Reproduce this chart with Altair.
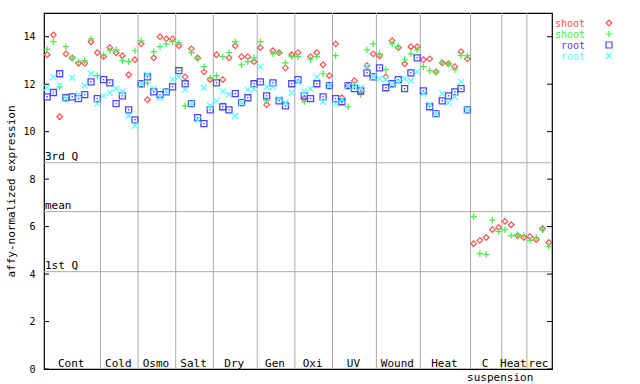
import altair as alt
import pandas as pd

groups = ["Cont", "Cold", "Osmo", "Salt", "Dry", "Gen", "Oxi", "UV", "Wound", "Heat", "C", "Heat", "rec"]
group_sub = ["", "", "", "", "", "", "", "", "", "", "suspension", "", ""]
counts = [9, 6, 6, 6, 7, 6, 6, 7, 7, 8, 5, 4, 4]

shoot1 = [13.24, 14.08, 10.63, 13.28, 13.11, 12.88, 12.88, 13.79, 13.33,
          13.16, 13.54, 13.33, 13.20, 12.40, 13.03,
          13.70, 11.35, 13.11, 14.00, 13.91, 13.91,
          13.62, 12.31, 13.49, 13.11, 12.52, 12.19,
          13.24, 12.19, 13.11, 13.62, 13.16, 13.16, 12.95,
          13.54, 11.14, 13.41, 13.33, 12.69, 13.24,
          13.33, 11.39, 13.16, 13.33, 12.82, 12.36,
          13.70, 11.43, 11.94, 12.15, 11.72, 12.78, 13.28,
          13.20, 12.31, 13.83, 13.54, 12.86, 13.58, 13.58,
          13.03, 13.07, 12.52, 12.90, 12.86, 12.74, 13.37, 13.07,
          5.28, 5.42, 5.54, 5.87, 5.96,
          6.22, 6.08, 5.62, 5.54,
          5.58, 5.45, 5.91, 5.33]

shoot2 = [13.47, 13.79, 11.89, 13.58, 13.07, 12.95, 12.99, 13.91, 12.36,
          13.24, 13.41, 13.45, 12.99, 12.95, 13.41,
          13.83, 12.06, 13.37, 13.58, 13.70, 13.79,
          13.75, 11.09, 13.33, 13.07, 12.74, 12.27,
          12.36, 13.16, 13.33, 13.79, 12.82, 12.95, 13.11,
          13.79, 11.30, 13.28, 13.33, 12.90, 13.16,
          13.16, 11.26, 13.03, 13.16, 12.44, 11.94,
          13.20, 11.30, 11.05, 11.98, 11.56, 13.45, 13.70,
          13.28, 12.61, 13.70, 13.58, 13.03, 13.28, 13.45,
          12.74, 12.57, 12.48, 12.90, 12.86, 12.61, 13.20, 13.20,
          6.42, 4.86, 4.82, 6.27, 5.79,
          5.87, 5.62, 5.66, 5.62,
          5.42, 5.54, 5.87, 5.16]

root1 = [11.47, 11.65, 12.44, 11.43, 11.47, 11.39, 11.56, 12.10, 11.39,
         12.19, 12.06, 11.18, 11.51, 10.92, 10.50,
         12.02, 12.31, 11.68, 11.56, 11.68, 11.89,
         12.57, 12.02, 11.18, 10.59, 10.34, 10.92,
         12.06, 11.05, 10.92, 11.60, 11.22, 11.43, 12.02,
         12.10, 11.51, 12.06, 11.30, 11.09, 12.02,
         12.19, 11.51, 11.39, 12.02, 11.47, 11.94,
         11.39, 11.26, 11.94, 11.81, 11.72, 12.48, 12.31,
         12.69, 11.85, 12.02, 12.19, 11.81, 12.48, 13.11,
         11.72, 11.05, 10.76, 11.30, 11.51, 11.68, 11.81, 10.92]

root2 = [11.85, 12.31, 11.94, 11.39, 12.27, 11.56, 11.94, 12.44, 11.18,
         11.51, 11.64, 11.81, 11.68, 10.67, 10.25,
         12.02, 12.40, 11.81, 11.43, 11.70, 12.19,
         12.31, 11.77, 11.18, 10.50, 11.85, 11.09,
         11.30, 11.70, 11.56, 10.67, 11.22, 11.77, 11.81,
         12.74, 11.89, 11.89, 11.39, 11.22, 11.64,
         12.10, 11.68, 11.81, 12.31, 11.26, 11.94,
         11.18, 11.35, 11.94, 11.89, 11.85, 12.74, 12.31,
         12.23, 12.19, 12.00, 12.10, 12.23, 12.15, 12.52,
         11.60, 11.14, 10.76, 11.60, 11.22, 11.47, 12.10, 10.92]

stat_labels = ["3rd Q", "mean", "1st Q"]
stat_values = [8.69, 6.63, 4.10]

y_ticks = [0, 2, 4, 6, 8, 10, 12, 14]
legend_labels = ["shoot", "shoot", "root", "root"]

RED = "#ff5050"
GREEN = "#44f044"
BLUE = "#4848ff"
CYAN = "#55ffff"
GRID = "#aaaaaa"
FONT = "DejaVu Sans Mono"

W, H = 508, 356
N = sum(counts)

# derived tables
bounds = []
centers = []
acc = 0
for c in counts:
    centers.append(acc + c / 2)
    acc += c
    bounds.append(acc)
bounds = bounds[:-1]

def series_df(vals):
    return pd.DataFrame({"x": [i + 0.5 for i in range(len(vals))], "y": vals})

xs = alt.Scale(domain=[0, N], nice=False, zero=False)
ys = alt.Scale(domain=[0, 15], nice=False, zero=True)
yaxis = alt.Axis(values=y_ticks, title="affy-normalized expression", grid=False, domain=False,
                 ticks=False, labelPadding=9, labelFont=FONT, labelFontSize=10, labelColor="black",
                 titleFont=FONT, titleFontSize=11, titleFontWeight="normal", titleColor="black",
                 titlePadding=6)

def X(field="x"):
    return alt.X(f"{field}:Q", scale=xs, axis=None)

def Y(field="y"):
    return alt.Y(f"{field}:Q", scale=ys, axis=yaxis)

bound_df = pd.DataFrame({"b": bounds})
vlines = alt.Chart(bound_df).mark_rule(color=GRID, strokeWidth=1).encode(x=X("b"))

stat_df = pd.DataFrame({"label": stat_labels, "v": stat_values})
hlines = alt.Chart(stat_df).mark_rule(color=GRID, strokeWidth=1).encode(y=Y("v"))
htext = alt.Chart(stat_df).mark_text(align="left", baseline="bottom", dx=0, dy=-1,
                                     font=FONT, fontSize=11, color="black").encode(
    x=alt.value(1), y=Y("v"), text="label:N")

tick_df = pd.DataFrame({"t": y_ticks})
lticks = alt.Chart(tick_df).mark_rule(color="black").encode(
    y=Y("t"), x=alt.value(0), x2=alt.value(5))
rticks = alt.Chart(tick_df).mark_rule(color="black").encode(
    y=Y("t"), x=alt.value(W - 5), x2=alt.value(W))

lab_df = pd.DataFrame({"c": centers, "g": groups, "s": group_sub})
glabels = alt.Chart(lab_df).mark_text(baseline="alphabetic", font=FONT, fontSize=11,
                                      color="black", dx=-1).encode(
    x=X("c"), y=alt.value(H - 2), text="g:N")
gsub = alt.Chart(lab_df).mark_text(baseline="alphabetic", font=FONT, fontSize=11,
                                   color="black", dx=14).encode(
    x=X("c"), y=alt.value(H + 12), text="s:N")

PLUS = "M-1,0L1,0M0,-1L0,1"
XSH = "M-1,-1L1,1M-1,1L1,-1"

p_red = alt.Chart(series_df(shoot1)).mark_point(shape="diamond", filled=False, size=32,
                                                strokeWidth=1.2, color=RED, opacity=1).encode(x=X(), y=Y())
p_green = alt.Chart(series_df(shoot2)).mark_point(shape=PLUS, filled=False, size=42,
                                                  strokeWidth=1.2, color=GREEN, opacity=1).encode(x=X(), y=Y())
p_blue = alt.Chart(series_df(root1)).mark_point(shape="square", filled=False, size=36,
                                                strokeWidth=1.3, color=BLUE, opacity=1).encode(x=X(), y=Y())
p_blue_dot = alt.Chart(series_df(root1)).mark_point(shape="square", filled=True, size=2,
                                                    color=BLUE, opacity=1).encode(x=X(), y=Y())
p_cyan = alt.Chart(series_df(root2)).mark_point(shape=XSH, filled=False, size=36,
                                                strokeWidth=1.2, color=CYAN, opacity=1).encode(x=X(), y=Y())

# legend
leg_colors = [RED, GREEN, BLUE, CYAN]
leg_shapes = ["diamond", PLUS, "square", XSH]
leg_sizes = [32, 42, 36, 36]
legend_layers = []
for k, (lab, col, shp, sz) in enumerate(zip(legend_labels, leg_colors, leg_shapes, leg_sizes)):
    d = pd.DataFrame({"label": [lab]})
    legend_layers.append(
        alt.Chart(d).mark_text(align="right", baseline="alphabetic", font=FONT, fontSize=10,
                               color=col).encode(x=alt.value(541), y=alt.value(14 + 11 * k),
                                                 text="label:N"))
    legend_layers.append(
        alt.Chart(d).mark_point(shape=shp, filled=False, size=sz, strokeWidth=1.2, color=col,
                                opacity=1).encode(x=alt.value(565), y=alt.value(10 + 11 * k)))

chart = alt.layer(
    vlines, hlines, htext, lticks, rticks, glabels, gsub,
    p_red, p_green, p_blue, p_blue_dot, p_cyan, *legend_layers
).properties(
    width=W, height=H,
    padding={"left": 44, "top": 13, "right": 88, "bottom": 15},
    autosize=alt.AutoSizeParams(type="none"),
    background="white",
).configure_view(stroke="black", strokeWidth=1.2)

chart.save("out.html", embed_options={"renderer": "svg", "actions": False})
